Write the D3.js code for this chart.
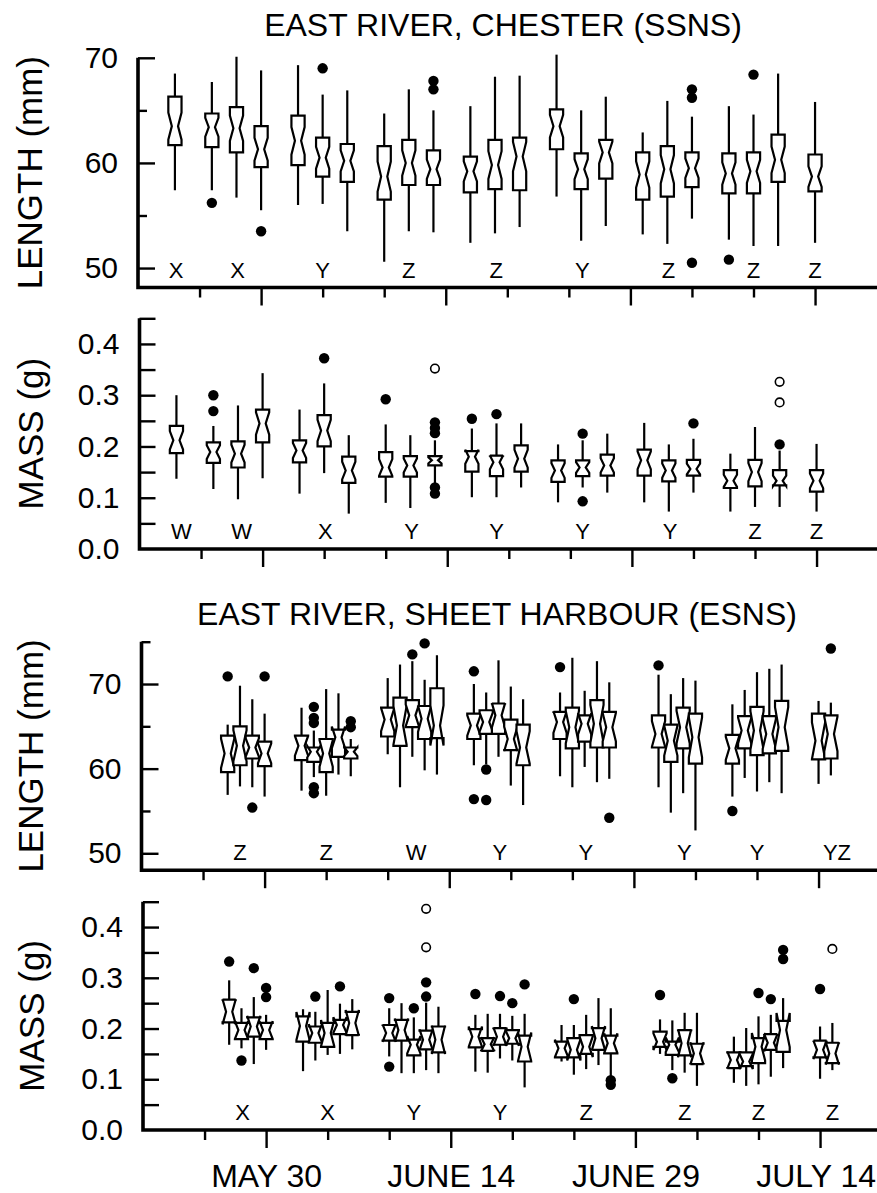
<!DOCTYPE html>
<html><head><meta charset="utf-8">
<script src="https://cdn.jsdelivr.net/npm/d3@7"></script>
<style>
body{margin:0;background:#fff}
svg{display:block;background:#fff}
text{font-family:"Liberation Sans",Arial,Helvetica,sans-serif;fill:#000}
</style>
</head><body>
<svg id="chart" width="877" height="1193"></svg>
<script>
// ---------- DATA (day = days after May 30) ----------
const titles = ["EAST RIVER, CHESTER (SSNS)", "EAST RIVER, SHEET HARBOUR (ESNS)"];
const yTitles = ["LENGTH (mm)", "MASS (g)", "LENGTH (mm)", "MASS (g)"];
const dateTickDays = [0, 15, 30, 45];
const dateTickLabels = ["MAY 30", "JUNE 14", "JUNE 29", "JULY 14"];
const dayTicks = [-5, 0, 5, 10, 15, 20, 25, 30, 35, 40, 45];
const lenTicksA = [50, 55, 60, 65, 70];
const lenTicksB = [50, 55, 60, 65, 70, 75];
const lenLabels = [50, 60, 70];
const massTicks = [0.05, 0.10, 0.15, 0.20, 0.25, 0.30, 0.35, 0.40, 0.45];
const massLabels = [0.0, 0.1, 0.2, 0.3, 0.4];

// Chester (SSNS) sampling days
const chesterDays = [-7,-4,-2,0,3,5,7,10,12,14,17,19,21,24,26,28,31,33,35,38,40,42,45];

// Chester length (mm)
const chLenLo  = [57.4,57.4,56.7,55.5,56.0,56.1,53.5,50.6,53.5,53.4,52.4,53.3,53.9,56.8,52.6,54.0,53.2,52.3,54.7,52.7,52.1,52.1,52.4];
const chLenQ1  = [61.7,61.5,61.0,59.6,59.8,58.7,58.2,56.5,57.9,57.9,57.2,57.5,57.4,61.3,57.5,58.5,56.5,56.8,57.7,57.1,57.1,58.2,57.3];
const chLenMed = [63.5,63.4,63.3,61.3,62.1,60.5,60.2,58.7,60.0,59.4,59.2,59.8,60.6,63.5,59.4,61.0,58.9,59.4,59.5,59.0,59.2,60.3,58.7];
const chLenQ3  = [66.3,64.7,65.3,63.5,64.5,62.4,61.8,61.6,62.2,61.2,60.6,62.2,62.4,65.1,60.9,62.2,61.0,61.6,61.0,60.9,61.0,62.7,60.8];
const chLenHi  = [68.5,67.7,70.1,68.8,69.3,66.5,66.9,64.7,67.0,65.0,65.4,68.2,68.3,70.3,65.0,66.3,62.9,65.9,64.4,65.4,64.6,68.5,65.8];
const chLenOut = [[],[56.2],[],[53.5],[],[69.0],[],[],[],[67.0,67.8],[],[],[],[],[],[],[],[],[66.2,67.0,50.5],[50.8],[68.4],[],[]];
const chLenFar = [[],[],[],[],[],[],[],[],[],[],[],[],[],[],[],[],[],[],[],[],[],[],[]];
const chLenLetters = ["X","X","Y","Z","Z","Y","Z","Z","Z"];
const chLenLetterDays = [-6.9,-1.9,5,12,19.1,26.1,33.1,40,45];

// Chester mass (g)
const chMassLo  = [.137,.117,.097,.138,.108,.148,.069,.090,.080,.127,.101,.101,.120,.091,.120,.110,.091,.073,.110,.073,.082,.082,.073];
const chMassQ1  = [.187,.168,.159,.208,.169,.200,.129,.141,.141,.163,.151,.142,.151,.131,.142,.143,.143,.132,.143,.119,.122,.124,.112];
const chMassMed = [.212,.189,.186,.245,.192,.231,.153,.159,.163,.173,.180,.169,.176,.153,.159,.163,.173,.153,.156,.133,.150,.133,.133];
const chMassQ3  = [.240,.208,.210,.272,.212,.261,.180,.189,.181,.181,.191,.182,.202,.173,.173,.184,.194,.173,.174,.154,.174,.154,.154];
const chMassHi  = [.300,.240,.280,.343,.272,.323,.222,.243,.222,.212,.235,.245,.245,.204,.212,.225,.246,.204,.215,.186,.238,.192,.205];
const chMassOut = [[],[.269,.300],[],[],[],[.372],[],[.292],[],[.247,.236,.226,.120,.108],[.254],[.263],[],[],[.225,.093],[],[],[],[.245],[],[],[.204],[]];
const chMassFar = [[],[],[],[],[],[],[],[],[],[.352],[],[],[],[],[],[],[],[],[],[],[],[.326,.286],[]];
const chMassLetters = ["W","W","X","Y","Y","Y","Y","Z","Z"];
const chMassLetterDays = [-6.6,-1.7,5.1,12.1,19,26,33.1,40,45];

// Sheet Harbour (ESNS) sampling days
const esnsDays = [-3,-2,-1,0, 3,4,5,6,7, 10,11,12,13,14, 17,18,19,20,21, 24,25,26,27,28, 32,33,34,35, 38,39,40,41,42, 45,46];

// ESNS length (mm)
const esLenLo  = [56.9,57.9,57.8,56.7, 57.4,59.0,56.8,59.3,59.1, 61.7,57.8,61.4,59.8,59.3, 60.4,60.5,61.4,58.0,55.7, 59.1,57.8,60.2,58.4,58.8, 57.8,54.8,57.1,52.7, 56.7,58.9,57.3,58.4,57.1, 58.2,59.2];
const esLenQ1  = [59.6,60.4,61.2,60.3, 61.0,60.8,59.6,61.4,61.2, 63.8,62.7,64.9,63.5,63.6, 63.5,64.1,64.1,62.2,60.4, 63.5,62.4,63.2,62.5,62.5, 62.5,60.8,62.4,60.6, 60.6,62.4,61.6,61.8,62.1, 61.1,61.2];
const esLenMed = [61.8,62.7,62.5,61.8, 62.7,62.0,61.8,63.7,62.0, 65.8,65.1,66.3,65.9,65.1, 65.1,65.5,66.3,63.5,62.5, 65.5,64.9,65.3,65.3,64.9, 64.1,63.3,64.9,63.7, 62.4,64.5,64.5,64.1,64.9, 63.3,64.1];
const esLenQ3  = [63.9,65.0,63.9,63.2, 63.9,62.5,63.5,64.6,62.5, 67.2,68.4,68.1,67.4,69.5, 66.5,66.9,67.7,65.8,65.2, 66.7,67.2,66.3,68.1,66.7, 66.3,65.2,67.2,66.5, 64.0,66.2,67.3,66.2,68.0, 66.5,66.3];
const esLenHi  = [65.2,69.8,68.2,66.5, 67.2,64.5,69.4,68.9,63.5, 70.7,72.3,72.7,70.5,73.4, 70.0,69.0,72.8,69.7,68.2, 69.0,73.1,69.2,72.7,70.2, 71.1,68.8,70.7,70.4, 67.6,69.3,71.4,71.8,72.3, 68.0,67.8];
const esLenOut = [[70.9],[],[55.4],[70.9], [],[67.3,66.0,65.4,57.8,57.1],[],[],[65.6,64.9], [],[],[73.5],[74.8],[], [71.5,56.4],[59.9,56.3],[],[],[], [72.0],[],[],[],[54.2], [72.2],[],[],[], [55.0],[],[],[],[], [],[74.2]];
const esLenFar = esnsDays.map(() => []);
const esLenLetters = ["Z","Z","W","Y","Y","Y","Y","YZ"];
const esLenLetterDays = [-2,5,12.3,19.1,26.1,34.1,40,46.5];

// ESNS mass (g)
const esMassLo  = [.168,.161,.130,.158, .116,.137,.148,.150,.159, .145,.112,.112,.118,.112, .115,.113,.141,.137,.084, .135,.109,.120,.128,.105, .150,.118,.113,.087, .093,.087,.090,.105,.122, .101,.118];
const esMassQ1  = [.212,.179,.184,.179, .174,.172,.164,.189,.187, .176,.176,.147,.159,.153, .163,.156,.168,.170,.135, .143,.143,.150,.158,.151, .164,.148,.147,.130, .122,.126,.132,.158,.154, .143,.132];
const esMassMed = [.233,.197,.204,.197, .205,.191,.191,.207,.211, .191,.197,.168,.178,.178, .184,.169,.184,.181,.164, .161,.158,.164,.181,.171, .174,.168,.171,.151, .138,.135,.164,.172,.197, .158,.151];
const esMassQ3  = [.257,.211,.222,.211, .224,.204,.211,.217,.233, .207,.217,.178,.196,.204, .199,.181,.201,.197,.186, .174,.181,.187,.201,.186, .194,.174,.197,.170, .153,.153,.181,.189,.215, .176,.172];
const esMassHi  = [.295,.240,.262,.227, .238,.233,.276,.249,.258, .240,.250,.222,.251,.243, .227,.229,.229,.225,.229, .207,.207,.227,.260,.240, .218,.216,.231,.231, .184,.201,.224,.227,.260, .204,.211];
const esMassOut = [[.332],[.137],[.319],[.280,.262], [],[.263],[],[.283],[], [.260,.125],[],[.240],[.291,.263],[], [.268],[],[.264],[.250],[.287], [],[.258],[],[],[.098,.089], [.266],[.102],[],[], [],[],[.270],[.258],[.355,.337], [.278],[]];
const esMassFar = [[],[],[],[], [],[],[],[],[], [],[],[],[.436,.360],[], [],[],[],[],[], [],[],[],[],[], [],[],[],[], [],[],[],[],[], [],[.357]];
const esMassLetters = ["X","X","Y","Y","Z","Z","Z","Z"];
const esMassLetterDays = [-1.9,5,12,19,26,34,40,46];

// ---------- LAYOUT ----------
const W = 877;
const svg = d3.select("#chart");
const PX_PER_DAY = 12.31;
const FONT = '"Liberation Sans", Arial, Helvetica, sans-serif';
const fmtLen = d3.format("d"), fmtMass = d3.format(".1f");

const panels = [
  {days: chesterDays, lo: chLenLo, q1: chLenQ1, med: chLenMed, q3: chLenQ3, hi: chLenHi, out: chLenOut, far: chLenFar,
   letters: chLenLetters, letterDays: chLenLetterDays, yTitle: yTitles[0], shift: 0,
   yDom: [48.15, 70], yRange: [287.5, 57.8], ticks: lenTicksA, labels: lenLabels, fmt: fmtLen, equalTicks: false, notchK: 0.28},
  {days: chesterDays, lo: chMassLo, q1: chMassQ1, med: chMassMed, q3: chMassQ3, hi: chMassHi, out: chMassOut, far: chMassFar,
   letters: chMassLetters, letterDays: chMassLetterDays, yTitle: yTitles[1], shift: 1.5,
   yDom: [0, 0.45], yRange: [549, 318.3], ticks: massTicks, labels: massLabels, fmt: fmtMass, equalTicks: true, notchK: 0.34},
  {days: esnsDays, lo: esLenLo, q1: esLenQ1, med: esLenMed, q3: esLenQ3, hi: esLenHi, out: esLenOut, far: esLenFar,
   letters: esLenLetters, letterDays: esLenLetterDays, yTitle: yTitles[2], shift: 3.5,
   yDom: [48, 75], yRange: [870.2, 641.7], ticks: lenTicksB, labels: lenLabels, fmt: fmtLen, equalTicks: false, notchK: 0.4},
  {days: esnsDays, lo: esMassLo, q1: esMassQ1, med: esMassMed, q3: esMassQ3, hi: esMassHi, out: esMassOut, far: esMassFar,
   letters: esMassLetters, letterDays: esMassLetterDays, yTitle: yTitles[3], shift: 5,
   yDom: [0, 0.45], yRange: [1130, 901.7], ticks: massTicks, labels: massLabels, fmt: fmtMass, equalTicks: true, notchK: 0.55, dateLabels: true}
];

// titles
svg.append("text").attr("x", 503).attr("y", 36).attr("text-anchor", "middle")
  .attr("font-size", 32).text(titles[0]);
svg.append("text").attr("x", 497).attr("y", 625).attr("text-anchor", "middle")
  .attr("font-size", 32).text(titles[1]);

const HW = 6.6, IW = 3.1;

function boxPath(cx, y, q1, med, q3, notch) {
  const y1 = y(q1), ym = y(med), y3 = y(q3), yn1 = y(med - notch), yn3 = y(med + notch);
  return `M${cx-HW},${y1}L${cx-HW},${yn1}L${cx-IW},${ym}L${cx-HW},${yn3}L${cx-HW},${y3}` +
         `L${cx+HW},${y3}L${cx+HW},${yn3}L${cx+IW},${ym}L${cx+HW},${yn1}L${cx+HW},${y1}Z`;
}
const near = (a, b) => Math.abs(a - b) < 1e-9;

panels.forEach(p => {
  const x = d3.scaleLinear().domain([-10, 50]).range([138 + p.shift, 138 + p.shift + 60 * PX_PER_DAY]);
  const y = d3.scaleLinear().domain(p.yDom).range(p.yRange);
  const g = svg.append("g");
  const ax = x(-10), yb = p.yRange[0], yt = p.yRange[1];

  // y axis ticks + labels
  const allY = Array.from(new Set(p.ticks.concat(p.labels).map(v => +v.toFixed(4)))).sort((a,b)=>a-b);
  const ay = g.append("g").attr("transform", `translate(${ax},0)`)
    .call(d3.axisLeft(y).tickValues(allY).tickSize(0).tickPadding(20)
      .tickFormat(v => p.labels.some(m => near(m, v)) ? p.fmt(v) : ""));
  ay.select(".domain").remove();
  ay.selectAll(".tick line")
    .attr("x2", v => near(v, p.yDom[0]) ? 0 : (p.equalTicks ? 16 : (p.labels.some(m => near(m, v)) ? 17 : 9)))
    .attr("stroke", "#000").attr("stroke-width", 2.4);
  ay.selectAll(".tick text").attr("font-size", 30).attr("font-family", FONT).attr("fill", "#000");

  // x axis ticks
  const axb = g.append("g").attr("transform", `translate(0,${yb})`)
    .call(d3.axisBottom(x).tickValues(dayTicks).tickSize(0)
      .tickFormat(v => p.dateLabels && dateTickDays.includes(v) ? dateTickLabels[dateTickDays.indexOf(v)] : ""));
  axb.select(".domain").remove();
  axb.selectAll(".tick line").attr("y2", v => dateTickDays.includes(v) ? 18 : 10)
    .attr("stroke", "#000").attr("stroke-width", 2.4);
  axb.selectAll(".tick text").attr("font-size", 32).attr("font-family", FONT).attr("fill", "#000")
    .attr("y", 57).attr("dy", 0)
    .each(function() {
      // keep labels inside the picture
      const b = this.getBBox();
      const tx = this.parentNode.transform.baseVal.consolidate().matrix.e;
      const over = tx + b.x + b.width - (W - 1);
      if (over > 0) d3.select(this).attr("x", -over);
    });

  // axis frame
  g.append("path").attr("d", `M${ax},${yt}V${yb}H880`).attr("fill", "none")
    .attr("stroke", "#000").attr("stroke-width", 3.6);

  // y title
  g.append("text").attr("transform", `translate(${42 + p.shift * 0.4},${(yb + yt) / 2}) rotate(-90)`)
    .attr("text-anchor", "middle").attr("font-size", 35).text(p.yTitle);

  // letters
  g.selectAll("text.lt").data(p.letters).join("text").attr("class", "lt")
    .attr("x", (d, i) => x(p.letterDays[i])).attr("y", yb - 10)
    .attr("text-anchor", "middle").attr("font-size", 22).text(d => d);

  // boxes
  p.days.forEach((d, i) => {
    const cx = x(d);
    const bg = g.append("g");
    bg.append("line").attr("x1", cx).attr("x2", cx).attr("y1", y(p.hi[i])).attr("y2", y(p.q3[i]))
      .attr("stroke", "#000").attr("stroke-width", 2.2);
    bg.append("line").attr("x1", cx).attr("x2", cx).attr("y1", y(p.q1[i])).attr("y2", y(p.lo[i]))
      .attr("stroke", "#000").attr("stroke-width", 2.2);
    const notch = p.notchK * (p.q3[i] - p.q1[i]);
    bg.append("path").attr("d", boxPath(cx, y, p.q1[i], p.med[i], p.q3[i], notch))
      .attr("fill", "#fff").attr("stroke", "#000").attr("stroke-width", 2.2).attr("stroke-linejoin", "miter");
    p.out[i].forEach(v => bg.append("circle").attr("cx", cx).attr("cy", y(v)).attr("r", 5.2).attr("fill", "#000"));
    p.far[i].forEach(v => bg.append("circle").attr("cx", cx).attr("cy", y(v)).attr("r", 4.3)
      .attr("fill", "#fff").attr("stroke", "#000").attr("stroke-width", 1.6));
  });
});
</script>
</body></html>
